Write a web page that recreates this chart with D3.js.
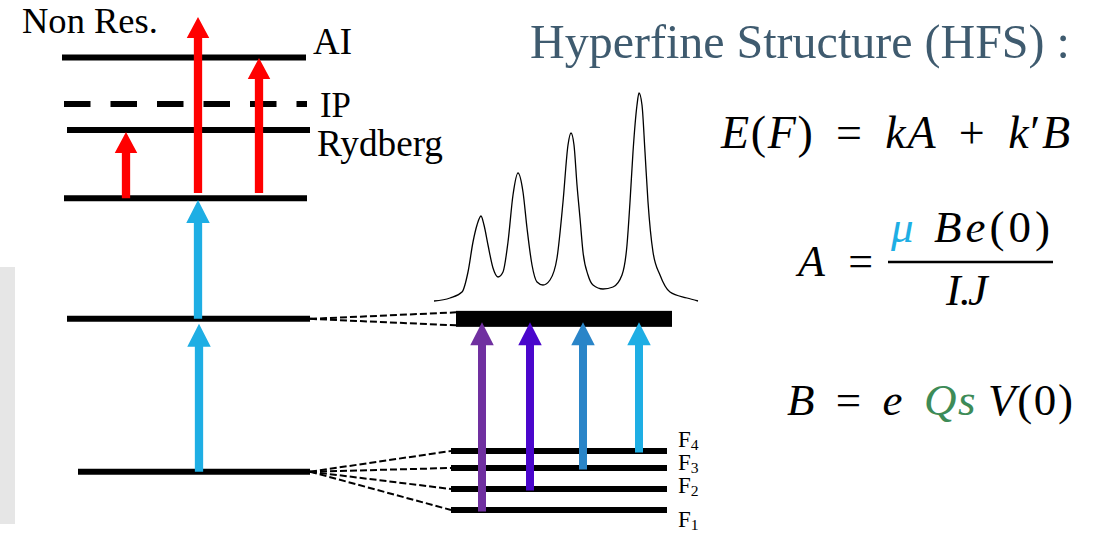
<!DOCTYPE html>
<html><head><meta charset="utf-8">
<script src="https://cdn.jsdelivr.net/npm/d3@7"></script>
<style>html,body{margin:0;padding:0;background:#fff;overflow:hidden}</style>
</head><body>
<svg id="c" width="1094" height="535"></svg>
<script>
// ---------------- DATA ----------------
const levelNames    = ["Ground", "Intermediate", "Second", "Rydberg", "IP", "AI"];
const levelEnergies = [0, 36.9, 66.0, 82.5, 88.8, 100];
const levelKinds    = ["state", "state", "state", "state", "threshold", "state"];
const levelLabels   = ["", "", "", "Rydberg", "IP", "AI"];

const stepNames   = ["Step 1", "Step 2", "Rydberg", "Non Res.", "AI"];
const stepFromE   = [0, 36.9, 66.0, 67.3, 67.3];
const stepToE     = [35.7, 65.6, 82.0, 109.8, 99.9];
const stepKinds   = ["resonant", "resonant", "ionizing", "ionizing", "ionizing"];

const hfNames     = ["F1", "F2", "F3", "F4"];
const hfEnergies  = [0, 21, 42, 59];
const hfUpperE    = 36.9;   // excited level the HFS components go to

// HFS spectrum (relative frequency, relative intensity)
const specFreq = [0,16,28,34,39,43,47,50,54,59,64,69,74,79,84,89,93,98,103,109,116,123,129,134,137,140,143,146,149,154,159,169,179,188,193,196,199,203,205,208,211,214,219,226,236,253,264];
const specInt  = [0,3,9,29,59,76,85,76,56,33,24,29,59,106,128,109,73,36,19,16,21,43,99,156,168,156,116,83,49,26,16,12,14,26,56,99,149,196,208,196,149,99,49,26,9,3,0];

const titleText = "Hyperfine Structure (HFS) :";
const nonResText = "Non Res.";

// ---------------- LAYOUT / STYLE ----------------
const L = {
  energyRange: [471.7, 57.5],
  levelX: [[78,310],[67,310],[64,307],[67,310],[64,307],[62,306]],
  levelW: 6,
  stepX: [199, 198, 126, 198, 259],
  hfRange: [510, 451],
  hfX: [451, 667],
  barX: [456, 672], barH: 16,
  hfArrowX: [482, 530, 583, 639],
  specX: [434, 698], specY: [301, 93],
  labelX: 678
};
const C = {
  red: "#ff0000", blue: "#1eaee4",
  hf: ["#7030a0", "#4a06cc", "#2a85c8", "#1eaee4"],
  title: "#3f5b6f", mu: "#1eaee4", qs: "#3d8b57"
};

const svg = d3.select("#c");
const yE  = d3.scaleLinear().domain([0, 100]).range(L.energyRange);
const yHF = d3.scaleLinear().domain([0, 59]).range(L.hfRange);
const xS  = d3.scaleLinear().domain([0, 264]).range(L.specX);
const yS  = d3.scaleLinear().domain([0, 208]).range(L.specY);

// grey side bar
svg.append("rect").attr("x", 0).attr("y", 267).attr("width", 15).attr("height", 257).attr("fill", "#e6e6e6");

function arrowPath(x, yb, yt, sw, hw, hl) {
  const p = d3.path();
  p.moveTo(x - sw/2, yb); p.lineTo(x - sw/2, yt + hl); p.lineTo(x - hw/2, yt + hl);
  p.lineTo(x, yt); p.lineTo(x + hw/2, yt + hl); p.lineTo(x + sw/2, yt + hl);
  p.lineTo(x + sw/2, yb); p.closePath();
  return p.toString();
}

// dashed connectors
const gConn = svg.append("g").attr("stroke", "#000").attr("stroke-width", 2).attr("stroke-dasharray", "7,3").attr("fill", "none");
[-6.5, 6.5].forEach(o => {
  gConn.append("line").attr("x1", L.levelX[1][1]).attr("y1", yE(hfUpperE))
    .attr("x2", L.barX[0]).attr("y2", yE(hfUpperE) + o);
});
hfEnergies.forEach(e => {
  gConn.append("line").attr("x1", L.levelX[0][1]).attr("y1", yE(0))
    .attr("x2", L.hfX[0]).attr("y2", yHF(e));
});

// main levels
levelEnergies.forEach((e, i) => {
  svg.append("line").attr("x1", L.levelX[i][0]).attr("x2", L.levelX[i][1])
    .attr("y1", yE(e)).attr("y2", yE(e)).attr("stroke", "#000").attr("stroke-width", L.levelW)
    .attr("stroke-dasharray", levelKinds[i] === "threshold" ? "26.5,20" : null);
});

// HF levels and upper bar
hfEnergies.forEach(e => {
  svg.append("line").attr("x1", L.hfX[0]).attr("x2", L.hfX[1]).attr("y1", yHF(e)).attr("y2", yHF(e))
    .attr("stroke", "#000").attr("stroke-width", L.levelW);
});
svg.append("rect").attr("x", L.barX[0]).attr("y", yE(hfUpperE) - L.barH/2)
  .attr("width", L.barX[1] - L.barX[0]).attr("height", L.barH).attr("fill", "#000");

// main arrows
stepNames.forEach((n, i) => {
  svg.append("path").attr("d", arrowPath(L.stepX[i], yE(stepFromE[i]), yE(stepToE[i]), 8.3,
      stepKinds[i] === "resonant" ? 23.5 : 22.5, stepKinds[i] === "resonant" ? 23 : 21))
    .attr("fill", stepKinds[i] === "resonant" ? C.blue : C.red);
});

// HF arrows
hfNames.forEach((n, i) => {
  svg.append("path").attr("d", arrowPath(L.hfArrowX[i], yHF(hfEnergies[i]) + 1.5, yE(hfUpperE) + 3.5, 8, 23.5, 23))
    .attr("fill", C.hf[i]);
});

// spectrum
svg.append("path").datum(specFreq.map((f, i) => [f, specInt[i]]))
  .attr("d", d3.line().x(d => xS(d[0])).y(d => yS(d[1])).curve(d3.curveMonotoneX))
  .attr("fill", "none").attr("stroke", "#000").attr("stroke-width", 1.3);

// ---------------- TEXT ----------------
function fit(t, x0, x1) {
  const fs = parseFloat(t.attr("font-size"));
  let bb = t.node().getBBox();
  t.attr("font-size", fs * (x1 - x0) / bb.width);
  bb = t.node().getBBox();
  t.attr("x", +t.attr("x") + (x0 - bb.x));
  return t;
}
const serif = "'Liberation Serif','Times New Roman',serif";

function label(txt, x0, x1, base) {
  return fit(svg.append("text").attr("x", x0).attr("y", base).attr("font-family", serif)
    .attr("font-size", 30).attr("fill", "#000").text(txt), x0, x1);
}
label(nonResText, 22, 158, 33);
const labelPos = { "AI": [313, 352, 54], "IP": [320, 351, 117], "Rydberg": [317, 443, 156] };
levelLabels.forEach(l => { if (l) label(l, ...labelPos[l]); });

// HF labels
const hfLabelBase = [527, 493, 470, 447];
hfNames.forEach((n, i) => {
  const t = svg.append("text").attr("x", L.labelX).attr("y", hfLabelBase[i]).attr("font-family", serif)
    .attr("font-size", 23).attr("fill", "#000");
  t.append("tspan").text(n[0]);
  t.append("tspan").attr("font-size", "0.68em").attr("dy", "0.2em").text(n.slice(1));
});

// title
fit(svg.append("text").attr("x", 530).attr("y", 58).attr("font-family", serif).attr("font-size", 46)
  .attr("fill", C.title).text(titleText), 530, 1070);

// formulas: fixed size; extra width shared between word and letter spacing
function formula(parts, x0, x1, base, fs, wordShare) {
  const t = svg.append("text").attr("x", x0).attr("y", base).attr("font-family", serif)
    .attr("font-size", fs).attr("fill", "#000").style("white-space", "pre");
  parts.forEach(p => {
    const s = t.append("tspan").text(p[0]);
    if (p[1]) s.attr("font-style", "italic");
    if (p[2]) s.attr("fill", p[2]);
  });
  const str = t.text();
  const n = str.length, nsp = (str.match(/ /g) || []).length;
  let bb = t.node().getBBox();
  const extra = x1 - x0 - bb.width;
  const ws = nsp ? extra * wordShare / nsp : 0;
  const ls = (extra - ws * nsp) / Math.max(1, n - 1);
  t.attr("letter-spacing", ls).attr("word-spacing", ws);
  bb = t.node().getBBox();
  t.attr("x", x0 - (bb.x - x0));
  return t;
}
formula([["E",1],["(",0],["F",1],[") = ",0],["kA",1],[" + ",0],["k",1],["′",0],["B",1]], 720, 1070, 148, 46, 0.6);
formula([["A",1],[" =",0]], 795, 873, 276, 44, 0.5);
formula([["μ",1,C.mu],[" ",0],["Be",1],["(0)",0]], 890, 1050, 242, 45, 0.05);
svg.append("line").attr("x1", 888).attr("x2", 1053).attr("y1", 262).attr("y2", 262).attr("stroke", "#000").attr("stroke-width", 2.5);
formula([["I",1],[".",0],["J",1]], 945, 990, 305, 44, 0);
formula([["B",1],[" = ",0],["e",1],[" ",0],["Qs",1,C.qs],["\u2009",0],["V",1],["(0)",0]], 787, 1073, 415, 45, 0.5);
</script>
</body></html>
